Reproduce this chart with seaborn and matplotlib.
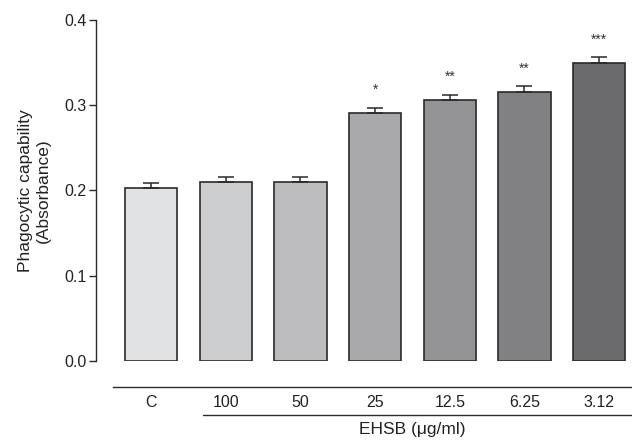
import numpy as np
import pandas as pd
import matplotlib
matplotlib.use("Agg")
import matplotlib.pyplot as plt
import seaborn as sns

# data
groups = ["C", "100", "50", "25", "12.5", "6.25", "3.12"]
absorbance = [0.203, 0.2095, 0.2095, 0.291, 0.306, 0.316, 0.350]
sem = [0.006, 0.006, 0.006, 0.006, 0.006, 0.006, 0.006]
stars = ["", "", "", "*", "**", "**", "***"]
bar_colors = ["#e1e2e4", "#cdced0", "#bcbdc0", "#a8a9ac", "#939498", "#808185", "#6a6b6f"]

df = pd.DataFrame({"group": groups, "abs": absorbance, "sem": sem})

sns.set_style("ticks")
plt.rcParams["font.family"] = ["Liberation Sans", "DejaVu Sans"]

fig = plt.figure(figsize=(6.32, 4.41), dpi=100)
ax = fig.add_axes([96 / 632, 1 - 360.7 / 441, (632 - 96) / 632, 340.7 / 441])

edge = "#2a2a2a"
txt = "#222222"
sns.barplot(data=df, x="group", y="abs", hue="group", palette=bar_colors,
            legend=False, width=0.7, edgecolor=edge, linewidth=1.2, ax=ax)

# error bars: upper half only
x = np.arange(len(groups))
ax.errorbar(x, df["abs"], yerr=[np.zeros(len(groups)), df["sem"]], fmt="none",
            ecolor=edge, elinewidth=1.1, capsize=5.5, capthick=1.1, zorder=3)

# significance marks
for xi, val, err, s in zip(x, absorbance, sem, stars):
    if s:
        ax.annotate(s, (xi, val + err), xytext=(0, 13), textcoords="offset points",
                    ha="center", va="center", fontsize=10, color="#333333")

ax.set_ylim(0, 0.4)
ax.set_xlim(-0.737, 6.44)
ax.set_yticks([0.0, 0.1, 0.2, 0.3, 0.4])
ax.set_yticklabels(["0.0", "0.1", "0.2", "0.3", "0.4"])
ax.tick_params(axis="y", length=5, width=1, color=edge, labelcolor=txt, labelsize=11.5, pad=2)
ax.tick_params(axis="x", length=0, labelcolor=txt, labelsize=11.5, pad=6)

for side in ["top", "right"]:
    ax.spines[side].set_visible(False)
ax.spines["left"].set_color(edge)
ax.spines["left"].set_linewidth(1.0)
ax.spines["bottom"].set_position(("outward", 19))
ax.spines["bottom"].set_bounds(-0.51, 6.44)
ax.spines["bottom"].set_color(edge)
ax.spines["bottom"].set_linewidth(1.0)

# line under the EHSB doses
trans = ax.get_xaxis_transform()
ax.plot([0.70, 6.44], [-0.159, -0.159], transform=trans, color=edge, lw=1.0, clip_on=False)
ax.text(3.5, -0.203, "EHSB (\u03bcg/ml)", transform=trans, ha="center", va="center",
        fontsize=12.5, color=txt)

ax.set_xlabel("")
ax.set_ylabel("Phagocytic capability\n(Absorbance)", fontsize=12.5, color=txt,
              linespacing=1.25)
ax.yaxis.set_label_coords(-0.084, 0.5)

fig.savefig("out.png", dpi=100)
